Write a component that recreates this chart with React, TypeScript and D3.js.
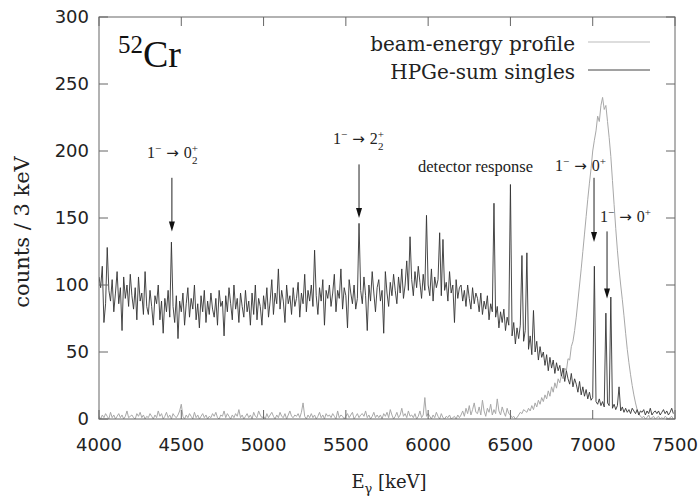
import * as d3 from 'd3'

// spectrum binned at 10 keV, values in counts / 3 keV
const E_START = 4000
const BIN = 10

const singles = [
  106, 98, 114, 72, 86, 128, 96, 88, 104, 80,
  94, 110, 86, 98, 66, 106, 90, 100, 84, 108,
  92, 82, 98, 74, 106, 88, 94, 78, 110, 84,
  78, 96, 84, 70, 92, 86, 100, 74, 88, 64,
  90, 80, 96, 76, 132, 84, 72, 92, 60, 88,
  80, 94, 70, 86, 98, 76, 90, 82, 100, 74,
  86, 68, 92, 80, 96, 72, 88, 78, 94, 82,
  76, 90, 70, 96, 84, 88, 62, 92, 80, 98,
  86, 74, 100, 82, 90, 72, 94, 84, 76, 96,
  80, 88, 70, 94, 78, 100, 74, 90, 84, 70,
  92, 82, 98, 76, 88, 104, 78, 94, 86, 112,
  82, 96, 88, 72, 100, 86, 92, 78, 98, 84,
  90, 102, 76, 94, 86, 108, 80, 96, 88, 100,
  84, 126, 92, 78, 98, 88, 104, 70, 96, 90,
  100, 84, 94, 108, 80, 96, 90, 112, 82, 98,
  92, 68, 104, 94, 86, 100, 82, 90, 146, 96,
  86, 106, 92, 66, 100, 88, 110, 94, 80, 98,
  104, 88, 96, 64, 110, 94, 84, 102, 92, 108,
  96, 86, 106, 94, 112, 90, 100, 118, 96, 136,
  104, 92, 110, 98, 114, 102, 90, 108, 96, 152,
  100, 92, 112, 88, 106, 98, 104, 139, 92, 134,
  96, 102, 88, 110, 94, 100, 72, 104, 90, 98,
  100, 88, 96, 84, 100, 90, 82, 98, 86, 94,
  90, 80, 94, 78, 88, 82, 92, 74, 86, 80,
  161, 76, 84, 68, 80, 72, 82, 66, 76, 70,
  175, 62, 72, 56, 68, 60, 70, 122, 58, 66,
  124, 52, 62, 48, 81, 50, 58, 44, 54, 46,
  50, 40, 48, 36, 46, 38, 44, 34, 42, 36,
  40, 32, 38, 28, 36, 30, 26, 34, 24, 30,
  26, 20, 28, 18, 24, 17, 22, 15, 20, 14,
  16, 114, 13, 11, 15, 10, 13, 9, 79, 12,
  10, 91, 8, 11, 7, 10, 24, 6, 9, 5,
  8, 5, 7, 4, 8, 6, 4, 7, 3, 6,
  5, 7, 3, 6, 4, 8, 3, 5, 6, 4,
  6, 3, 5, 7, 4, 6, 3, 5, 8, 4,
]

const beamProfile = [
  2, 0, 3, 1, 4, 2, 0, 5, 1, 3,
  0, 2, 4, 1, 3, 0, 2, 6, 1, 2,
  3, 1, 0, 4, 2, 5, 1, 3, 0, 2,
  1, 4, 2, 0, 3, 1, 6, 2, 4, 0,
  2, 5, 1, 3, 0, 4, 2, 1, 3, 6,
  11, 2, 0, 3, 1, 4, 2, 0, 5, 1,
  3, 0, 2, 4, 1, 3, 0, 2, 1, 4,
  2, 5, 1, 0, 3, 2, 6, 1, 4, 2,
  0, 3, 1, 4, 2, 7, 1, 3, 0, 2,
  4, 1, 3, 0, 5, 2, 1, 6, 3, 1,
  2, 0, 4, 1, 3, 5, 2, 0, 3, 1,
  5, 2, 1, 4, 0, 3, 6, 2, 1, 3,
  2, 4, 1, 5, 12, 2, 0, 3, 1, 4,
  1, 3, 0, 2, 5, 1, 3, 0, 4, 2,
  3, 1, 4, 2, 0, 6, 1, 3, 2, 0,
  2, 4, 1, 3, 5, 0, 2, 4, 1, 3,
  4, 2, 6, 1, 3, 0, 2, 5, 1, 3,
  1, 3, 0, 4, 2, 5, 1, 7, 3, 0,
  2, 5, 1, 3, 8, 2, 4, 1, 6, 2,
  3, 1, 4, 0, 2, 6, 1, 3, 16, 2,
  4, 2, 0, 3, 1, 5, 2, 0, 4, 1,
  0, 2, 1, 3, 0, 1, 2, 0, 3, 1,
  3, 6, 2, 8, 4, 10, 3, 7, 12, 5,
  4, 9, 3, 14, 6, 2, 8, 5, 11, 3,
  7, 4, 15, 6, 3, 9, 5, 2, 8, 4,
  3, 1, 2, 0, 1, 3, 5, 4, 7, 6,
  5, 8, 6, 10, 7, 12, 9, 14, 11, 16,
  13, 18, 15, 21, 17, 24, 20, 27, 23, 30,
  27, 33, 30, 38, 36, 45, 44, 54, 58, 66,
  76, 88, 100, 112, 125, 138, 151, 164, 176, 187,
  200, 208, 215, 226, 222, 234, 240, 231, 234, 222,
  210, 196, 178, 160, 142, 126, 112, 100, 89, 77,
  64, 52, 42, 33, 25, 18, 12, 7, 4, 2,
  1, 2, 0, 1, 3, 0, 1, 2, 0, 1,
  2, 0, 1, 0, 2, 1, 0, 1, 2, 0,
]

const xTicks = [4000, 4500, 5000, 5500, 6000, 6500, 7000, 7500]
const yTicks = [0, 50, 100, 150, 200, 250, 300]

// arrows: energy, tail and tip in counts
const arrowE = [4443, 5580, 7008, 7087]
const arrowFrom = [180, 190, 180, 140]
const arrowTo = [140, 150, 132, 90]

// transition labels: anchor energy, baseline in counts, final state
const transE = [4292, 5422, 6771, 7044]
const transY = [195, 205, 185, 147]
const transTo = ['0', '2', '0', '0']
const transSub = ['2', '2', '', '']

const W = 700
const H = 497
const m = { left: 99, right: 25, top: 17, bottom: 78 }

const serif = "'DejaVu Serif', serif"
const times = "'Liberation Serif', serif"
const sans = "'DejaVu Sans', sans-serif"

const Trans = ({ x, y, to, sub }) => (
  <text x={x} y={y} fontFamily={times} fontSize={16} fill="#222">
    1<tspan fontSize={11} dy={-6}>−</tspan>
    <tspan dy={6} dx={5} fontFamily={sans} fontSize={15}>→</tspan>
    <tspan dx={5}>{to}</tspan>
    <tspan fontSize={11} dy={-6}>+</tspan>
    {sub && <tspan fontSize={11} dx={-6} dy={12}>{sub}</tspan>}
  </text>
)

export default function App() {
  const x = d3.scaleLinear().domain([4000, 7500]).range([m.left, W - m.right])
  const y = d3.scaleLinear().domain([0, 300]).range([H - m.bottom, m.top])
  const x0 = x.range()[0], x1 = x.range()[1]
  const y0 = y.range()[0], y1 = y.range()[1]

  const line = d3.line<number>()
    .x((d, i) => x(E_START + i * BIN))
    .y(d => y(d))

  const axisColor = '#666'
  const tl = 9

  return (
    <svg width={W} height={H} style={{ position: 'absolute', left: 0, top: 0, background: '#fff' }}>
      <defs>
        <clipPath id="plot">
          <rect x={x0} y={y1} width={x1 - x0} height={y0 - y1} />
        </clipPath>
      </defs>

      <g clipPath="url(#plot)">
        <path d={line(beamProfile)} fill="none" stroke="#a8a8a8" strokeWidth={1} />
        <path d={line(singles)} fill="none" stroke="#333" strokeWidth={0.9} />
      </g>

      {/* frame and ticks */}
      <rect x={x0} y={y1} width={x1 - x0} height={y0 - y1} fill="none" stroke={axisColor} strokeWidth={1} />
      {xTicks.map(t => (
        <g key={'x' + t}>
          <line x1={x(t)} x2={x(t)} y1={y0} y2={y0 - tl} stroke={axisColor} />
          <line x1={x(t)} x2={x(t)} y1={y1} y2={y1 + tl} stroke={axisColor} />
          <text x={x(t)} y={y0 + 32} textAnchor="middle" fontFamily={sans} fontSize={18} fill="#222">{t}</text>
        </g>
      ))}
      {yTicks.map(t => (
        <g key={'y' + t}>
          <line x1={x0} x2={x0 + tl} y1={y(t)} y2={y(t)} stroke={axisColor} />
          <line x1={x1} x2={x1 - tl} y1={y(t)} y2={y(t)} stroke={axisColor} />
          <text x={x0 - 10} y={y(t) + 6} textAnchor="end" fontFamily={sans} fontSize={18} fill="#222">{t}</text>
        </g>
      ))}

      {/* axis titles */}
      <text transform={`translate(29, ${(y0 + y1) / 2 + 14}) rotate(-90)`} textAnchor="middle"
        fontFamily={serif} fontSize={21} fill="#222">counts / 3 keV</text>
      <text x={(x0 + x1) / 2 + 2} y={488} textAnchor="middle" fontFamily={serif} fontSize={18} fill="#222">
        E<tspan fontSize={13} dy={5}>γ</tspan><tspan dy={-5}> [keV]</tspan>
      </text>

      {/* nucleus label */}
      <text x={118} y={67} fontFamily={times} fontSize={38} fill="#111">
        <tspan fontSize={25} dy={-14}>52</tspan><tspan dy={14}>Cr</tspan>
      </text>

      {/* legend */}
      <text x={575} y={51} textAnchor="end" fontFamily={serif} fontSize={20} fill="#222">beam-energy profile</text>
      <line x1={588} x2={650} y1={42} y2={42} stroke="#bbb" />
      <text x={575} y={79} textAnchor="end" fontFamily={serif} fontSize={20} fill="#222">HPGe-sum singles</text>
      <line x1={588} x2={650} y1={70} y2={70} stroke="#444" />

      {/* annotations */}
      {transE.map((e, i) => (
        <Trans key={'t' + i} x={x(e)} y={y(transY[i])} to={transTo[i]} sub={transSub[i]} />
      ))}
      <text x={418} y={172} fontFamily={times} fontSize={16.5} fill="#222">detector response</text>
      {arrowE.map((e, i) => (
        <g key={'a' + i}>
          <line x1={x(e)} x2={x(e)} y1={y(arrowFrom[i])} y2={y(arrowTo[i]) - 8} stroke="#222" strokeWidth={1} />
          <path d={`M${x(e) - 3},${y(arrowTo[i]) - 10} L${x(e) + 3},${y(arrowTo[i]) - 10} L${x(e)},${y(arrowTo[i])} Z`} fill="#111" />
        </g>
      ))}
    </svg>
  )
}
